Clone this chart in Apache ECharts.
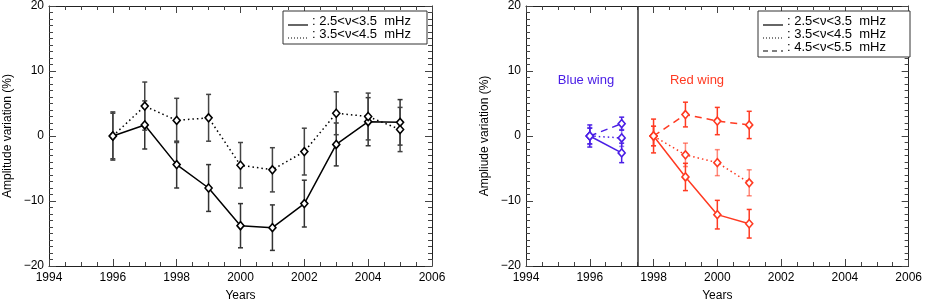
<!DOCTYPE html>
<html>
<head>
<meta charset="utf-8">
<script src="https://cdn.jsdelivr.net/npm/echarts@6/dist/echarts.min.js"></script>
<style>
html,body{margin:0;padding:0;background:#fff;}
#c{width:925px;height:307px;}
</style>
</head>
<body>
<div id="c"></div>
<script>
// ---- data ----
const xTicks = [1994, 1996, 1998, 2000, 2002, 2004, 2006];
const yTicks = [-20, -10, 0, 10, 20];

const yearsAll = [1996, 1997, 1998, 1999, 2000, 2001, 2002, 2003, 2004, 2005];
const leftSolid = [0, 1.7, -4.4, -8.0, -13.8, -14.1, -10.4, -1.3, 2.2, 2.1];
const leftSolidErr = [3.7, 3.7, 3.6, 3.6, 3.4, 3.5, 3.6, 3.3, 3.7, 3.5];
const leftDotted = [0, 4.6, 2.4, 2.8, -4.5, -5.2, -2.4, 3.5, 3.0, 1.0];
const leftDottedErr = [3.5, 3.7, 3.4, 3.6, 3.5, 3.4, 3.6, 3.3, 3.6, 3.4];

const blueYears = [1996, 1997];
const blueSolid = [0, -2.6];
const blueSolidErr = [1.7, 1.5];
const blueDotted = [0, -0.3];
const blueDottedErr = [1.3, 1.3];
const blueDashed = [0, 1.9];
const blueDashedErr = [1.2, 1.0];

const redYears = [1998, 1999, 2000, 2001];
const redSolid = [0, -6.3, -12.1, -13.5];
const redSolidErr = [2.6, 2.1, 2.2, 2.2];
const redDotted = [0, -2.9, -4.1, -7.2];
const redDottedErr = [1.5, 1.8, 2.0, 2.0];
const redDashed = [0, 3.3, 2.3, 1.7];
const redDashedErr = [1.5, 1.9, 2.1, 2.1];

const wingSplitYear = 1997.5;
const legendLeft = [': 2.5<\u03bd<3.5  mHz', ': 3.5<\u03bd<4.5  mHz'];
const legendRight = [': 2.5<\u03bd<3.5  mHz', ': 3.5<\u03bd<4.5  mHz', ': 4.5<\u03bd<5.5  mHz'];

// ---- styles ----
const FONT = 'Liberation Sans, Arial, Helvetica, sans-serif';
const BLACK = '#000';
const BLUE = '#4a1ee6';
const RED = '#ff3a22';
const DOT = [1.5, 3];
const DASH = [7, 5];

const chart = echarts.init(document.getElementById('c'), null, {renderer: 'canvas'});

function xAx(grid, top) {
  return {
    type: 'value', gridIndex: grid, min: 1994, max: 2006, interval: 2,
    position: top ? 'top' : 'bottom',
    axisLine: {show: true, onZero: false, lineStyle: {color: '#222', width: 1}},
    axisTick: {show: true, inside: true, length: 7, lineStyle: {color: '#444'}},
    minorTick: {show: true, splitNumber: 4, length: 4, lineStyle: {color: '#444'}},
    splitLine: {show: false},
    axisLabel: top ? {show: false} : {show: true, color: '#000', fontFamily: FONT, fontSize: 12, margin: 6,
      formatter: v => xTicks.includes(v) ? String(v) : ''},
    name: top ? '' : 'Years', nameLocation: 'middle', nameGap: 24,
    nameTextStyle: {color: '#000', fontFamily: FONT, fontSize: 12}
  };
}
function yAx(grid, right, title) {
  return {
    type: 'value', gridIndex: grid, min: -20, max: 20, interval: 10,
    position: right ? 'right' : 'left',
    axisLine: {show: true, onZero: false, lineStyle: {color: '#222', width: 1}},
    axisTick: {show: true, inside: true, length: 7, lineStyle: {color: '#444'}},
    minorTick: {show: true, splitNumber: 10, length: 4, lineStyle: {color: '#444'}},
    splitLine: {show: false},
    axisLabel: right ? {show: false} : {show: true, color: '#000', fontFamily: FONT, fontSize: 12, margin: 5,
      formatter: v => yTicks.includes(v) ? (v < 0 ? '\u2212' + Math.abs(v) : String(v)) : ''},
    name: right ? '' : title, nameLocation: 'middle', nameGap: 35,
    nameTextStyle: {color: '#000', fontFamily: FONT, fontSize: 12}
  };
}

function lineSeries(ax, xs, ys, color, type, extra) {
  return Object.assign({
    type: 'line', xAxisIndex: ax, yAxisIndex: ax,
    data: xs.map((x, i) => [x, ys[i]]),
    symbol: 'diamond', symbolSize: [7, 8],
    lineStyle: {color: color, width: 1.5, type: type},
    itemStyle: {color: '#fff', borderColor: color, borderWidth: 1.6},
    z: 3, silent: true, animation: false
  }, extra || {});
}
function errSeries(ax, xs, ys, errs, color, opacity) {
  return {
    type: 'custom', xAxisIndex: ax, yAxisIndex: ax,
    data: xs.map((x, i) => [x, ys[i] - errs[i], ys[i] + errs[i]]),
    encode: {x: 0, y: [1, 2]},
    renderItem: function (params, api) {
      const lo = api.coord([api.value(0), api.value(1)]);
      const hi = api.coord([api.value(0), api.value(2)]);
      const w = 2.5;
      const st = {stroke: color, lineWidth: 1.5, opacity: opacity};
      return {type: 'group', children: [
        {type: 'line', shape: {x1: lo[0], y1: lo[1], x2: hi[0], y2: hi[1]}, style: st},
        {type: 'line', shape: {x1: lo[0] - w, y1: lo[1], x2: lo[0] + w, y2: lo[1]}, style: st},
        {type: 'line', shape: {x1: hi[0] - w, y1: hi[1], x2: hi[0] + w, y2: hi[1]}, style: st}
      ]};
    },
    z: 2, silent: true, animation: false
  };
}

function legendGraphics(x0, y0, w, labels, styles) {
  const lh = 13;
  const h = labels.length * lh + 7;
  const els = [{type: 'rect', shape: {x: x0, y: y0, width: w, height: h},
    style: {fill: '#fff', stroke: '#333', lineWidth: 1}, z: 100}];
  labels.forEach((t, i) => {
    const cy = y0 + 3.5 + lh * (i + 0.5);
    els.push({type: 'line', shape: {x1: x0 + 5, y1: cy + 4, x2: x0 + 25, y2: cy + 4},
      style: {stroke: '#000', lineWidth: 1.2, lineDash: styles[i]}, z: 101});
    els.push({type: 'text', x: x0 + 29, y: cy, style: {text: t, fill: '#000', font: '13px ' + FONT,
      textVerticalAlign: 'middle', verticalAlign: 'middle'}, z: 101});
  });
  return els;
}

const option = {
  animation: false,
  backgroundColor: '#fff',
  grid: [
    {left: 49, top: 2, width: 383, height: 272},
    {left: 526, top: 2, width: 384, height: 272}
  ],
  xAxis: [xAx(0, false), xAx(0, true), xAx(1, false), xAx(1, true)].map((a, i) => (a.gridIndex = i < 2 ? 0 : 1, a)),
  yAxis: [yAx(0, false, 'Amplitude variation (%)'), yAx(0, true), yAx(1, false, 'Ampliude variation (%)'), yAx(1, true)].map((a, i) => (a.gridIndex = i < 2 ? 0 : 1, a)),
  series: [
    errSeries(0, yearsAll, leftSolid, leftSolidErr, '#333', 1),
    errSeries(0, yearsAll, leftDotted, leftDottedErr, '#444', 1),
    lineSeries(0, yearsAll, leftSolid, BLACK, 'solid'),
    lineSeries(0, yearsAll, leftDotted, BLACK, DOT),

    errSeries(2, blueYears, blueSolid, blueSolidErr, BLUE, 1),
    errSeries(2, blueYears, blueDotted, blueDottedErr, BLUE, 0.6),
    errSeries(2, blueYears, blueDashed, blueDashedErr, BLUE, 1),
    lineSeries(2, blueYears, blueSolid, BLUE, 'solid'),
    lineSeries(2, blueYears, blueDotted, BLUE, DOT),
    lineSeries(2, blueYears, blueDashed, BLUE, DASH),

    errSeries(2, redYears, redSolid, redSolidErr, RED, 1),
    errSeries(2, redYears, redDotted, redDottedErr, RED, 0.6),
    errSeries(2, redYears, redDashed, redDashedErr, RED, 1),
    lineSeries(2, redYears, redSolid, RED, 'solid', {
      markLine: {silent: true, symbol: 'none', label: {show: false},
        lineStyle: {color: '#333', width: 1.5, type: 'solid'},
        data: [{xAxis: wingSplitYear}]}
    }),
    lineSeries(2, redYears, redDotted, RED, DOT),
    lineSeries(2, redYears, redDashed, RED, DASH)
  ],
  graphic: [
    ...legendGraphics(283, 11, 144, legendLeft, [null, [1, 2]]),
    ...legendGraphics(758, 11, 152, legendRight, [null, [1, 2], [5, 4]]),
    {type: 'text', x: 586, y: 80, style: {text: 'Blue wing', fill: BLUE, font: '13px ' + FONT,
      align: 'center', verticalAlign: 'middle', textAlign: 'center', textVerticalAlign: 'middle'}},
    {type: 'text', x: 697, y: 80, style: {text: 'Red wing', fill: RED, font: '13px ' + FONT,
      align: 'center', verticalAlign: 'middle', textAlign: 'center', textVerticalAlign: 'middle'}}
  ]
};
chart.setOption(option);
</script>
</body>
</html>
